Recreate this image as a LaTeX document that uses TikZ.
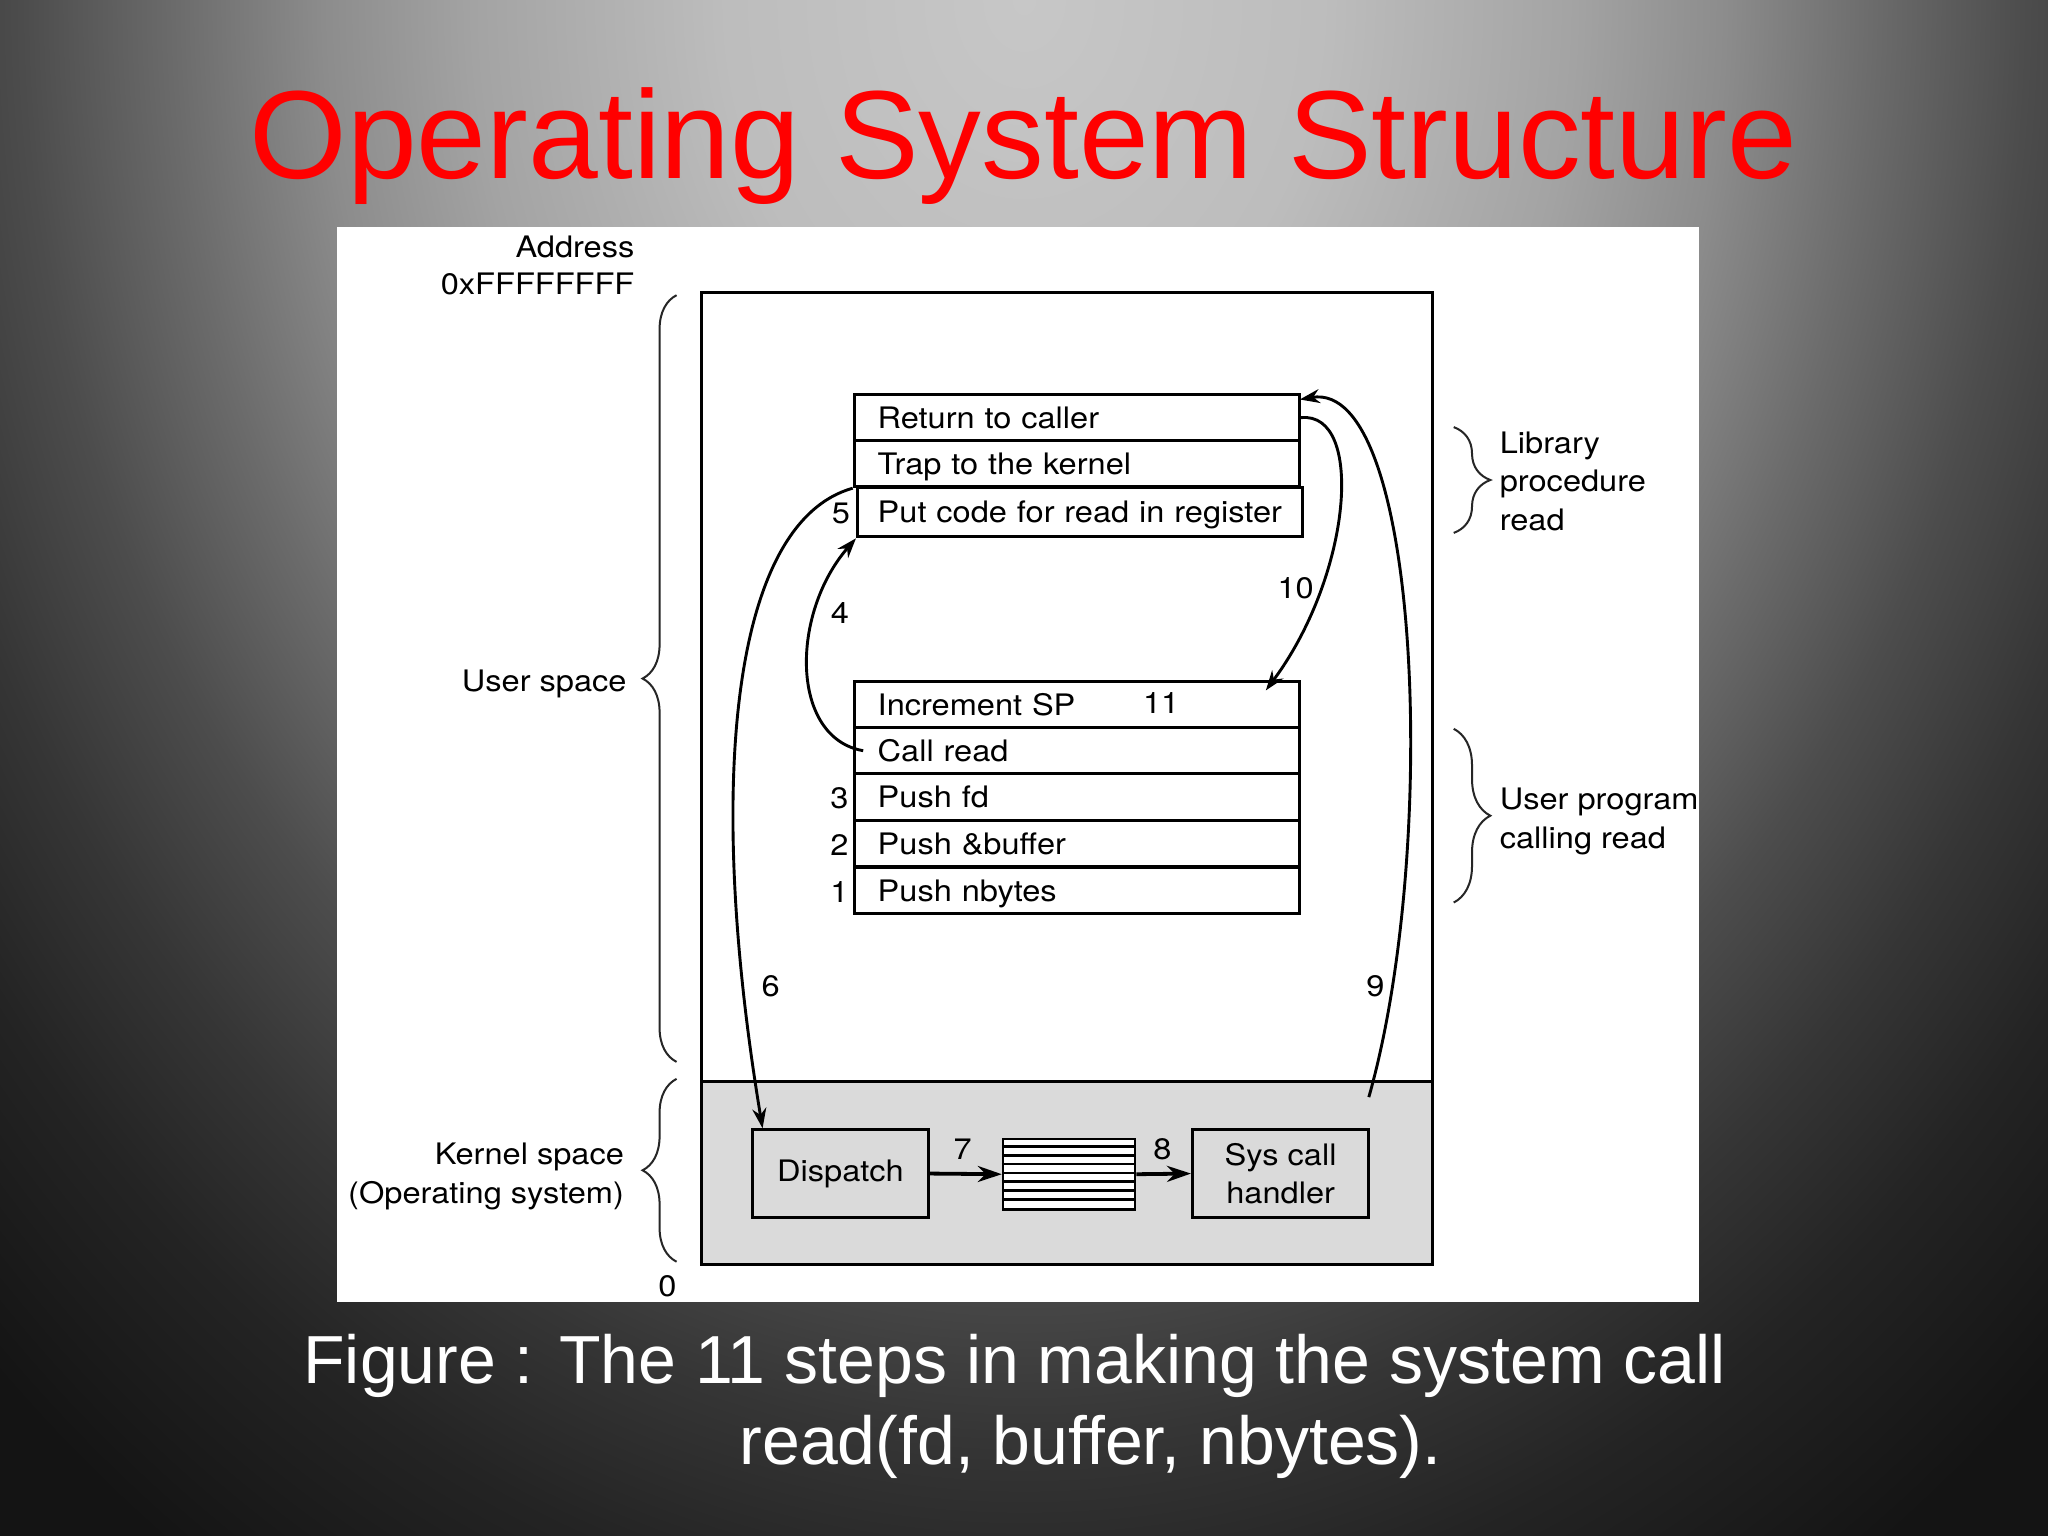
\documentclass[tikz,border=0pt]{standalone}
\usepackage{fontspec}
\setmainfont{Liberation Sans}
\newfontfamily\diagfam[FakeStretch=1.1]{TeX Gyre Heros}
\usetikzlibrary{arrows.meta,calc,decorations.pathreplacing}
\newcommand\myDiagFont{\diagfam\fontsize{14.8pt}{19.3pt}\selectfont}
\newcommand\myTitleFont{\fontsize{62.7pt}{70pt}\selectfont}
\newcommand\myCapFont{\fontsize{34pt}{40pt}\selectfont}
\definecolor{bgA}{gray}{0.78}
\definecolor{bgB}{gray}{0.74}
\definecolor{bgC}{gray}{0.64}
\definecolor{bgD}{gray}{0.55}
\definecolor{bgE}{gray}{0.42}
\definecolor{bgF}{gray}{0.30}
\definecolor{bgG}{gray}{0.21}
\definecolor{bgH}{gray}{0.14}
\definecolor{bgI}{gray}{0.08}
\definecolor{kgray}{gray}{0.855}
\pgfdeclareradialshading{bgshade}{\pgfpoint{0bp}{0bp}}{color(0bp)=(bgA); color(2.68bp)=(bgB); color(4.91bp)=(bgC); color(6.25bp)=(bgD); color(7.59bp)=(bgE); color(8.93bp)=(bgF); color(10.27bp)=(bgG); color(11.61bp)=(bgH); color(13.39bp)=(bgI); color(50bp)=(bgI)}
\begin{document}
\begin{tikzpicture}[x=0.653pt,y=-0.653pt,
  row/.style={draw, line width=1.5pt, fill=white, text width=199.17pt, inner xsep=11.75pt, inner ysep=0pt,
    minimum height=23.18pt, align=left, font=\myDiagFont, text height=10.6pt, text depth=0pt},
  kbox/.style={draw, line width=1.5pt, fill=kgray, minimum width=88.16pt, minimum height=43.75pt,
    inner sep=0pt, align=center, font=\myDiagFont},
  lbl/.style={font=\myDiagFont, inner sep=0pt},
  carrow/.style={line width=1.45pt, -{Stealth[length=10pt,width=7pt]}},
  fatarrow/.style={line width=1.9pt, -{Stealth[length=12pt,width=8pt]}},
  brc/.style={line width=1pt, draw=black!85, decorate},
]
\useasboundingbox (0,0) rectangle (1568,1176);
% background
\begin{scope}
  \clip (0,0) rectangle (1568,1176);
  \shade[shading=bgshade] (784,0) ellipse [x radius=1400pt, y radius=1750pt];
\end{scope}
% title
\node[anchor=base, font=\myTitleFont, text=red, inner sep=0pt] (title) at (783.5,136.5) {Operating System Structure};
% white panel
\fill[white] (258,174) rectangle (1301,997);
% memory
\node[draw, line width=1.5pt, fill=kgray, minimum width=365.68pt, minimum height=91.42pt, inner sep=0pt] (kern) at (817,898) {};
\node[draw, line width=1.5pt, minimum width=365.68pt, minimum height=485.83pt, inner sep=0pt] (mem) at (817,596) {};
% library procedure
\node[row] (ret) at (824.5,319.75) {Return to caller};
\node[row, minimum height=22.86pt] (trap) at (824.5,355.1) {Trap to the kernel};
\node[row, text width=202.1pt, inner xsep=10.12pt, minimum height=24.81pt] (put) at (826.75,392) {Put code for read in register};
% user program
\node[row] (inc) at (824.5,539.5) {Increment SP};
\node[row] (call) at (824.5,574.75) {Call read};
\node[row] (pfd) at (824.5,610.25) {Push fd};
\node[row] (pbuf) at (824.5,646) {Push \&buffer};
\node[row] (pnb) at (824.5,682) {Push nbytes};
% kernel boxes
\node[kbox] (disp) at (643.5,898.5) {Dispatch};
\node[kbox] (handler) at (980.5,898.5) {Sys call\\handler};
\node[draw, line width=1.3pt, fill=white, minimum width=65.95pt, minimum height=35.26pt, inner sep=0pt] (tbl) at (818.5,899) {};
\foreach \k in {1,...,7}
  \draw[line width=1.3pt] ($(tbl.north west)+(0,{\k*6.75})$) -- ($(tbl.north east)+(0,{\k*6.75})$);
\draw[fatarrow] (disp.east) -- (tbl.west);
\draw[fatarrow] (tbl.east) -- (handler.west);
% curved arrows
\draw[carrow] ($(call.west)+(8,0)$) .. controls (605,565) and (605,470) .. (put.south west);
\draw[carrow] (trap.south west) .. controls (560,400) and (540,600) .. ($(disp.north west)+(9,0)$);
\coordinate (k9) at (1048,840);
\draw[carrow] (k9) .. controls (1102,650) and (1088,290) .. ($(ret.north east)+(-1,5)$);
\draw[carrow] (ret.east) .. controls (1045,315) and (1035,440) .. ($(inc.north east)+(-27,8)$);
% step numbers
\node[lbl, anchor=base east] (n5) at (651,401) {5};
\node[lbl, anchor=base] (n4) at (643,477) {4};
\node[lbl, anchor=base east] (n3) at (650,619) {3};
\node[lbl, anchor=base east] (n2) at (650,655) {2};
\node[lbl, anchor=base east] (n1) at (650,691) {1};
\node[lbl, anchor=base] (n11) at (889,546) {11};
\node[lbl, anchor=base] (n10) at (992,458) {10};
\node[lbl, anchor=base] (n6) at (590,763) {6};
\node[lbl, anchor=base] (n9) at (1053,763) {9};
\node[lbl, anchor=base] (n7) at (737,888) {7};
\node[lbl, anchor=base] (n8) at (890,888) {8};
% left labels and braces
\node[lbl, anchor=base east] (addr) at (486,197) {Address};
\node[lbl, anchor=base east] (addr2) at (486,225.5) {0xFFFFFFFF};
\node[lbl, anchor=base east] (us) at (480,529.5) {User space};
\node[lbl, anchor=base east] (ks) at (478,891.5) {Kernel space};
\node[lbl, anchor=base east] (ks2) at (478,921.5) {(Operating system)};
\node[lbl, anchor=base] (zero) at (511,993) {0};
\draw[brc, decoration={brace, amplitude=17pt}] (518,813) -- (518,226);
\draw[brc, decoration={brace, amplitude=17pt}] (518,966) -- (518,826);
% right labels and braces
\draw[brc, decoration={brace, amplitude=18.3pt}] (1113,327) -- (1113,408);
\draw[brc, decoration={brace, amplitude=18.3pt}] (1113,558) -- (1113,691);
\node[lbl, anchor=base west] (lib1) at (1148,347) {Library};
\node[lbl, anchor=base west] (lib2) at (1148,376.5) {procedure};
\node[lbl, anchor=base west] (lib3) at (1148,406) {read};
\node[lbl, anchor=base west] (up1) at (1148,619.5) {User program};
\node[lbl, anchor=base west] (up2) at (1148,649.5) {calling read};
% caption
\node[anchor=base west, font=\myCapFont, text=white, inner sep=0pt] (cap1) at (232,1059) {Figure : The 11 steps in making the system call};
\node[anchor=base west, font=\myCapFont, text=white, inner sep=0pt] (cap2) at (566,1121.5) {read(fd, buffer, nbytes).};
\end{tikzpicture}
\end{document}
